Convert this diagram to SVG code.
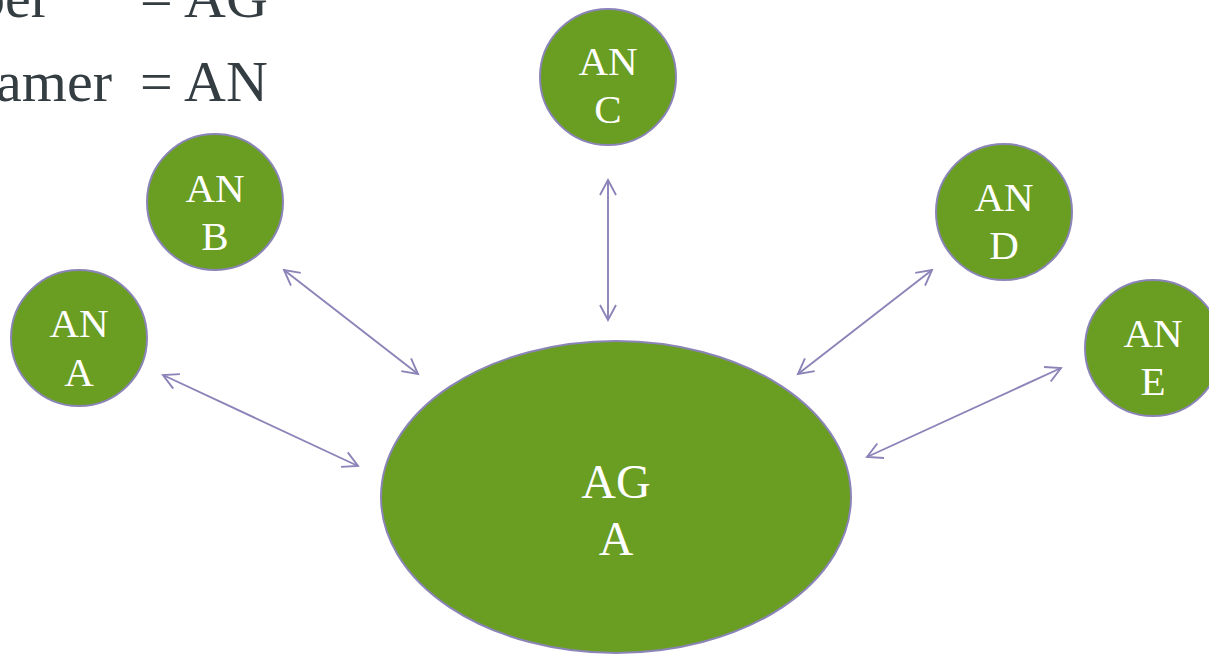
<svg xmlns="http://www.w3.org/2000/svg" width="1209" height="654" viewBox="0 0 1209 654">
<style>
.node{fill:#6a9e22;stroke:#8b84b8;stroke-width:2}
.lbl{font-family:"Liberation Serif","DejaVu Serif",serif;font-size:41px;fill:#ffffff;text-anchor:middle}
.big{font-size:48px}
.head{font-family:"Liberation Serif","DejaVu Serif",serif;font-size:58px;fill:#333d42}
.conn{stroke:#8b84b8;stroke-width:1.9;fill:none;marker-start:url(#ah);marker-end:url(#ah)}
</style>
<defs>
<marker id="ah" markerUnits="userSpaceOnUse" viewBox="-20 -12 24 24" markerWidth="24" markerHeight="24" refX="0" refY="0" orient="auto-start-reverse">
<path d="M-15,-8 L0,0 L-15,8" fill="none" stroke="#8b84b8" stroke-width="1.9"/>
</marker>
</defs>
<g id="heading">
<text class="head" x="50" y="17" text-anchor="end">ber</text>
<text class="head" x="140" y="17">= AG</text>
<text class="head" x="112" y="101" text-anchor="end">amer</text>
<text class="head" x="140" y="101">= AN</text>
</g>
<g id="connectors">
<line class="conn" x1="163" y1="375" x2="358" y2="466"/>
<line class="conn" x1="284" y1="270" x2="418" y2="374"/>
<line class="conn" x1="608" y1="180" x2="608" y2="320"/>
<line class="conn" x1="798" y1="374" x2="932" y2="270"/>
<line class="conn" x1="867" y1="457" x2="1061" y2="368"/>
</g>
<g id="AG_A">
<ellipse class="node" cx="616" cy="497" rx="235" ry="156"/>
<text class="lbl big" x="616" y="498">AG</text>
<text class="lbl big" x="616" y="555">A</text>
</g>
<g id="AN_A">
<circle class="node" cx="79" cy="338" r="68"/>
<text class="lbl" x="79" y="337">AN</text>
<text class="lbl" x="79" y="386">A</text>
</g>
<g id="AN_B">
<circle class="node" cx="215" cy="202" r="68"/>
<text class="lbl" x="215" y="202">AN</text>
<text class="lbl" x="215" y="250">B</text>
</g>
<g id="AN_C">
<circle class="node" cx="608" cy="77" r="68"/>
<text class="lbl" x="608" y="75">AN</text>
<text class="lbl" x="608" y="123">C</text>
</g>
<g id="AN_D">
<circle class="node" cx="1004" cy="212" r="68"/>
<text class="lbl" x="1004" y="211">AN</text>
<text class="lbl" x="1004" y="259">D</text>
</g>
<g id="AN_E">
<circle class="node" cx="1153" cy="348" r="68"/>
<text class="lbl" x="1153" y="347">AN</text>
<text class="lbl" x="1153" y="395">E</text>
</g>
</svg>
